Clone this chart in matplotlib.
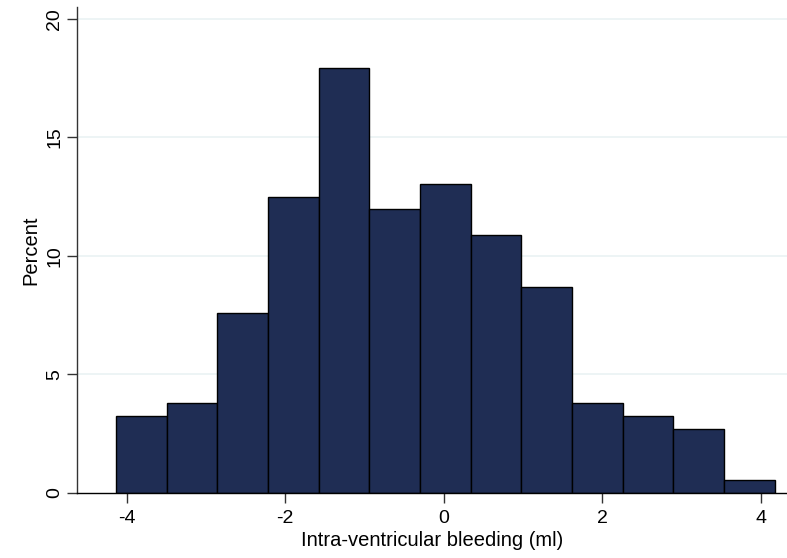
import numpy as np
import matplotlib
matplotlib.use("Agg")
import matplotlib.pyplot as plt

plt.rcParams["font.family"] = ["Liberation Sans", "DejaVu Sans"]

# histogram of intra-ventricular bleeding, percent per bin
bin_start = -4.134
bin_width = 0.639
percent = [3.26, 3.80, 7.61, 12.50, 17.93, 11.96, 13.04, 10.87, 8.70, 3.80, 3.26, 2.72, 0.54]
x_ticks = [-4, -2, 0, 2, 4]
y_ticks = [0, 5, 10, 15, 20]

left_edges = bin_start + bin_width * np.arange(len(percent))

fig = plt.figure(figsize=(7.87, 5.58), dpi=100)
ax = fig.add_axes([0.0978, 0.1165, 0.9022, 0.871])

for y in y_ticks[1:]:
    ax.axhline(y, color="#eaf2f3", lw=1.2, zorder=0)

ax.bar(left_edges, percent, width=bin_width, align="edge",
       color="#1f2d54", edgecolor="black", linewidth=1.0, zorder=2)

ax.set_xlim(-4.626, 4.328)
ax.set_ylim(0, 20.5)
ax.set_xticks(x_ticks)
ax.set_xticklabels([str(t) for t in x_ticks])
ax.set_yticks(y_ticks)
ax.set_yticklabels([str(t) for t in y_ticks], rotation=90, va="center")
ax.tick_params(axis="both", labelsize=14, length=7, width=1, color="#333333")
ax.tick_params(axis="x", pad=5)
ax.tick_params(axis="y", pad=3)

ax.spines["top"].set_visible(False)
ax.spines["right"].set_visible(False)
ax.spines["left"].set_color("#333333")
ax.spines["bottom"].set_color("black")
ax.spines["left"].set_linewidth(1.0)
ax.spines["bottom"].set_linewidth(1.0)

ax.set_xlabel("Intra-ventricular bleeding (ml)", fontsize=14.5, labelpad=3)
ax.set_ylabel("Percent", fontsize=14.5, labelpad=4)

fig.savefig("out.png", dpi=100)
